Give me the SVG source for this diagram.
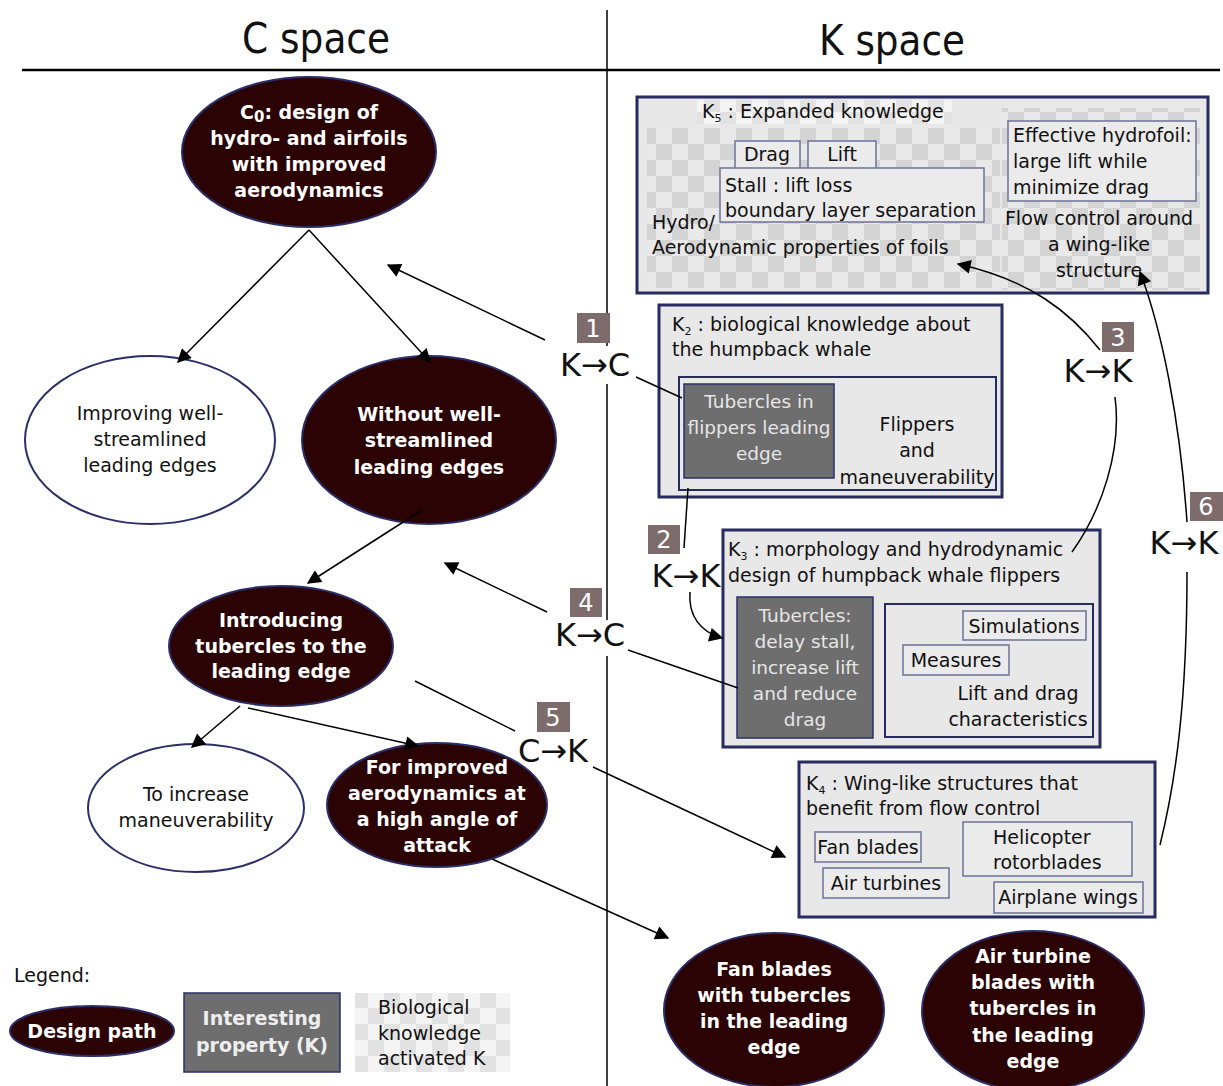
<svg xmlns="http://www.w3.org/2000/svg" width="1223" height="1086" viewBox="0 0 1223 1086">
<defs>
<pattern id="chk" x="0" y="0" width="32" height="32" patternUnits="userSpaceOnUse">
<rect width="32" height="32" fill="#e9e9e9"/>
<rect x="0" y="0" width="16" height="16" fill="#d4d4d4"/>
<rect x="16" y="16" width="16" height="16" fill="#d4d4d4"/>
</pattern>
<pattern id="chkL" x="0" y="0" width="32" height="32" patternUnits="userSpaceOnUse">
<rect width="32" height="32" fill="#f4f4f4"/>
<rect x="0" y="0" width="16" height="16" fill="#e2e2e2"/>
<rect x="16" y="16" width="16" height="16" fill="#e2e2e2"/>
</pattern>
<marker id="ah" viewBox="0 0 10 10" refX="9" refY="5" markerWidth="18" markerHeight="14" markerUnits="userSpaceOnUse" orient="auto">
<path d="M0,0 L10,5 L0,10 Z" fill="#000"/>
</marker>
<style>
text{font-family:"DejaVu Sans","Liberation Sans",sans-serif;}
.t{font-size:19px;fill:#111;}
.tc{font-size:19px;fill:#111;text-anchor:middle;}
.b{font-size:19px;font-weight:bold;fill:#fff;text-anchor:middle;}
.lt{font-size:18.5px;fill:#e6e6e6;text-anchor:middle;}
.ttl{font-size:42px;fill:#111;text-anchor:middle;}
.dk{fill:#2b0305;stroke:#2a2f6a;stroke-width:2;}
.wh{fill:#fff;stroke:#2a2f6a;stroke-width:2;}
.kb{fill:#e8e8e8;stroke:#262b60;stroke-width:3;}
.ki{fill:#e8e8e8;stroke:#262b60;stroke-width:2;}
.gb{fill:#6e6e6e;stroke:#2a2f6a;stroke-width:1.5;}
.sb{fill:#ebebeb;stroke:#6d7296;stroke-width:1.5;}
.num{fill:#7e6c6c;}
.numt{font-size:24px;fill:#fff;text-anchor:middle;}
.op{font-size:32px;fill:#111;text-anchor:middle;}
.ln{fill:none;stroke:#000;stroke-width:1.5;}
.sub{font-size:11px;}
</style>
</defs>
<rect width="1223" height="1086" fill="#fff"/>

<g id="frame">
<line x1="607" y1="10" x2="607" y2="1086" stroke="#000" stroke-width="1.5"/>
<line x1="22" y1="70" x2="1220" y2="70" stroke="#000" stroke-width="2.5"/>
<text class="ttl" x="316" y="53" textLength="148" lengthAdjust="spacingAndGlyphs">C space</text>
<text class="ttl" x="892" y="55" textLength="146" lengthAdjust="spacingAndGlyphs">K space</text>
</g>

<g id="label1">
<rect class="num" x="577" y="313" width="33" height="30"/>
<text class="numt" x="593" y="337">1</text>
<rect x="556" y="346" width="78" height="38" fill="#fff"/>
<text class="op" x="595" y="376">K→C</text>
</g>
<g id="label2">
<rect class="num" x="648" y="525" width="32" height="29"/>
<text class="numt" x="664" y="548">2</text>
<text class="op" x="686" y="587">K→K</text>
</g>
<g id="label3">
<rect class="num" x="1102" y="322" width="32" height="30"/>
<text class="numt" x="1118" y="346">3</text>
<text class="op" x="1098" y="382">K→K</text>
</g>
<g id="label4">
<rect class="num" x="570" y="588" width="32" height="29"/>
<text class="numt" x="586" y="611">4</text>
<rect x="551" y="620" width="78" height="36" fill="#fff"/>
<text class="op" x="590" y="646">K→C</text>
</g>
<g id="label5">
<rect class="num" x="537" y="702" width="33" height="30"/>
<text class="numt" x="553" y="726">5</text>
<text class="op" x="553" y="762">C→K</text>
</g>
<g id="label6">
<rect class="num" x="1190" y="492" width="33" height="29"/>
<text class="numt" x="1206" y="515">6</text>
<text class="op" x="1184" y="554">K→K</text>
</g>

<g id="c0">
<ellipse class="dk" cx="309" cy="152" rx="127" ry="75"/>
<text class="b" x="309" y="119">C<tspan font-size="15" dy="3">0</tspan><tspan dy="-3">: design of</tspan></text>
<text class="b" x="309" y="145">hydro- and airfoils</text>
<text class="b" x="309" y="171">with improved</text>
<text class="b" x="309" y="197">aerodynamics</text>
</g>
<g id="improving">
<ellipse class="wh" cx="150" cy="440" rx="125" ry="84"/>
<text class="tc" x="150" y="420">Improving well-</text>
<text class="tc" x="150" y="446">streamlined</text>
<text class="tc" x="150" y="472">leading edges</text>
</g>
<g id="without">
<ellipse class="dk" cx="429" cy="440" rx="127" ry="84"/>
<text class="b" x="429" y="421">Without well-</text>
<text class="b" x="429" y="447">streamlined</text>
<text class="b" x="429" y="474">leading edges</text>
</g>
<g id="introducing">
<ellipse class="dk" cx="281" cy="646" rx="112" ry="60"/>
<text class="b" x="281" y="627">Introducing</text>
<text class="b" x="281" y="653">tubercles to the</text>
<text class="b" x="281" y="678">leading edge</text>
</g>
<g id="increase">
<ellipse class="wh" cx="196" cy="808" rx="108" ry="64"/>
<text class="tc" x="196" y="801">To increase</text>
<text class="tc" x="196" y="827">maneuverability</text>
</g>
<g id="improved">
<ellipse class="dk" cx="437" cy="805" rx="110" ry="62"/>
<text class="b" x="437" y="774">For improved</text>
<text class="b" x="437" y="800">aerodynamics at</text>
<text class="b" x="437" y="826">a high angle of</text>
<text class="b" x="437" y="852">attack</text>
</g>
<g id="fanblades">
<ellipse class="dk" cx="774" cy="1010" rx="110" ry="77"/>
<text class="b" x="774" y="976">Fan blades</text>
<text class="b" x="774" y="1002">with tubercles</text>
<text class="b" x="774" y="1028">in the leading</text>
<text class="b" x="774" y="1054">edge</text>
</g>
<g id="airturbine">
<ellipse class="dk" cx="1033" cy="1011" rx="111" ry="80"/>
<text class="b" x="1033" y="963">Air turbine</text>
<text class="b" x="1033" y="989">blades with</text>
<text class="b" x="1033" y="1015">tubercles in</text>
<text class="b" x="1033" y="1042">the leading</text>
<text class="b" x="1033" y="1068">edge</text>
</g>

<g id="k5">
<rect class="kb" x="637" y="97" width="571" height="196"/>
<rect x="647" y="128" width="353" height="160" fill="url(#chk)"/>
<rect x="1002" y="108" width="198" height="182" fill="url(#chk)"/>
<rect x="697" y="100" width="255" height="24" fill="url(#chkL)"/>
<text class="t" x="702" y="118">K<tspan class="sub" dy="4">5</tspan><tspan dy="-4"> : Expanded knowledge</tspan></text>
<rect class="sb" x="735" y="141" width="65" height="28"/>
<text class="tc" x="767" y="161">Drag</text>
<rect class="sb" x="808" y="141" width="68" height="28"/>
<text class="tc" x="842" y="161">Lift</text>
<rect class="sb" x="720" y="168" width="264" height="54"/>
<text class="t" x="725" y="192">Stall : lift loss</text>
<text class="t" x="725" y="217">boundary layer separation</text>
<text class="t" x="652" y="229">Hydro/</text>
<text class="t" x="652" y="254">Aerodynamic properties of foils</text>
<rect class="sb" x="1008" y="121" width="188" height="80"/>
<text class="t" x="1013" y="142">Effective hydrofoil:</text>
<text class="t" x="1013" y="168">large lift while</text>
<text class="t" x="1013" y="194">minimize drag</text>
<text class="tc" x="1099" y="225">Flow control around</text>
<text class="tc" x="1099" y="251">a wing-like</text>
<text class="tc" x="1099" y="277">structure</text>
</g>

<g id="k2">
<rect class="kb" x="659" y="305" width="343" height="192"/>
<text class="t" x="672" y="331">K<tspan class="sub" dy="4">2</tspan><tspan dy="-4">   : biological knowledge about</tspan></text>
<text class="t" x="672" y="356">the humpback whale</text>
<rect class="ki" x="679" y="377" width="317" height="113"/>
<rect class="gb" x="684" y="384" width="150" height="94"/>
<text class="lt" x="759" y="408">Tubercles in</text>
<text class="lt" x="759" y="434">flippers leading</text>
<text class="lt" x="759" y="460">edge</text>
<text class="tc" x="917" y="431">Flippers</text>
<text class="tc" x="917" y="457">and</text>
<text class="tc" x="917" y="484">maneuverability</text>
</g>

<g id="k3">
<rect class="kb" x="723" y="530" width="377" height="217"/>
<text class="t" x="728" y="556">K<tspan class="sub" dy="4">3</tspan><tspan dy="-4">  : morphology and hydrodynamic</tspan></text>
<text class="t" x="728" y="582">design of humpback whale flippers</text>
<rect class="gb" x="737" y="597" width="136" height="141"/>
<text class="lt" x="805" y="622">Tubercles:</text>
<text class="lt" x="805" y="648">delay stall,</text>
<text class="lt" x="805" y="674">increase lift</text>
<text class="lt" x="805" y="700">and reduce</text>
<text class="lt" x="805" y="726">drag</text>
<rect class="ki" x="885" y="604" width="208" height="133"/>
<rect class="sb" x="963" y="611" width="123" height="29"/>
<text class="tc" x="1024" y="633">Simulations</text>
<rect class="sb" x="903" y="645" width="106" height="30"/>
<text class="tc" x="956" y="667">Measures</text>
<text class="tc" x="1018" y="700">Lift and drag</text>
<text class="tc" x="1018" y="726">characteristics</text>
</g>

<g id="k4">
<rect class="kb" x="799" y="762" width="356" height="155"/>
<text class="t" x="806" y="790">K<tspan class="sub" dy="4">4</tspan><tspan dy="-4"> :  Wing-like structures that</tspan></text>
<text class="t" x="806" y="815">benefit from flow control</text>
<rect class="sb" x="815" y="832" width="106" height="30"/>
<text class="tc" x="868" y="854">Fan blades</text>
<rect class="sb" x="823" y="868" width="126" height="30"/>
<text class="tc" x="886" y="890">Air turbines</text>
<rect class="sb" x="963" y="822" width="169" height="54"/>
<text class="t" x="993" y="844">Helicopter</text>
<text class="t" x="993" y="869">rotorblades</text>
<rect class="sb" x="994" y="882" width="149" height="31"/>
<text class="tc" x="1068" y="904">Airplane wings</text>
</g>

<g id="legend">
<text class="t" x="14" y="982">Legend:</text>
<ellipse class="dk" cx="92" cy="1031" rx="82" ry="25"/>
<text class="b" x="92" y="1038">Design path</text>
<rect class="gb" x="184" y="993" width="156" height="79"/>
<text class="b" x="262" y="1025" style="fill:#eee">Interesting</text>
<text class="b" x="262" y="1052" style="fill:#eee">property (K)</text>
<rect x="355" y="993" width="155" height="79" fill="url(#chkL)"/>
<text class="t" x="378" y="1014">Biological</text>
<text class="t" x="378" y="1040">knowledge</text>
<text class="t" x="378" y="1065">activated K</text>
</g>

<g id="connectors">
<line class="ln" x1="309" y1="230" x2="178" y2="362" marker-end="url(#ah)"/>
<line class="ln" x1="309" y1="230" x2="430" y2="362" marker-end="url(#ah)"/>
<line class="ln" x1="422" y1="510" x2="308" y2="583" marker-end="url(#ah)"/>
<line class="ln" x1="240" y1="706" x2="192" y2="747" marker-end="url(#ah)"/>
<line class="ln" x1="248" y1="708" x2="418" y2="746" marker-end="url(#ah)"/>
<line class="ln" x1="492" y1="859" x2="668" y2="938" marker-end="url(#ah)"/>
<line class="ln" x1="545" y1="340" x2="388" y2="265" marker-end="url(#ah)"/>
<line class="ln" x1="636" y1="377" x2="682" y2="398"/>
<line class="ln" x1="688" y1="488" x2="684" y2="548"/>
<path class="ln" d="M690,592 C688,615 700,632 722,638" marker-end="url(#ah)"/>
<path class="ln" d="M1100,350 C1070,312 1030,280 958,264" marker-end="url(#ah)"/>
<path class="ln" d="M1115,397 C1122,450 1102,510 1072,552"/>
<line class="ln" x1="547" y1="612" x2="445" y2="563" marker-end="url(#ah)"/>
<line class="ln" x1="628" y1="650" x2="738" y2="688"/>
<line class="ln" x1="415" y1="681" x2="515" y2="731"/>
<line class="ln" x1="593" y1="767" x2="785" y2="857" marker-end="url(#ah)"/>
<path class="ln" d="M1187,522 C1180,420 1162,330 1140,272" marker-end="url(#ah)"/>
<path class="ln" d="M1187,572 C1187,700 1176,780 1160,845"/>
</g>
</svg>
